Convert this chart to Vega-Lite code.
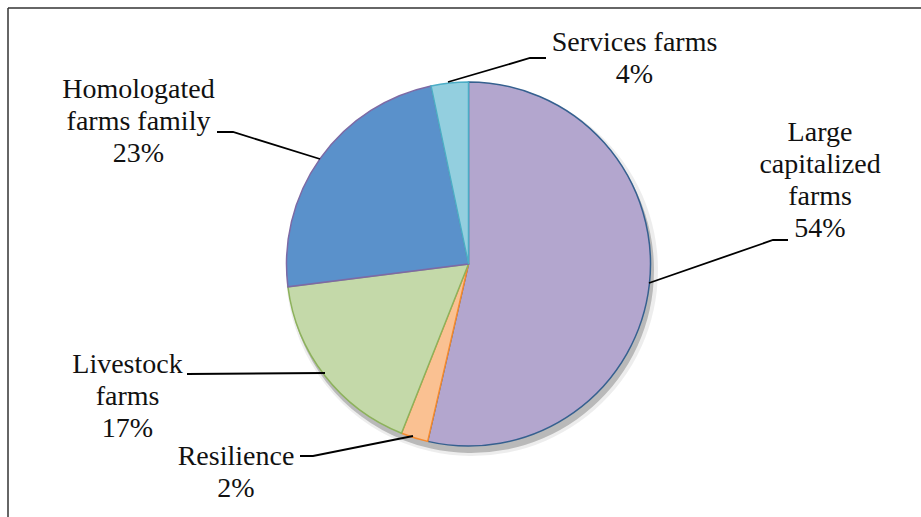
{
  "$schema": "https://vega.github.io/schema/vega-lite/v6.json",
  "width": 921,
  "height": 517,
  "padding": 0,
  "autosize": {"type": "none"},
  "background": "white",
  "config": {"view": {"stroke": null}},
  "datasets": {
    "slices": [
      {"cat": "Large capitalized farms", "value": 53.6, "idx": 1},
      {"cat": "Resilience", "value": 2.4, "idx": 2},
      {"cat": "Livestock farms", "value": 17.0, "idx": 3},
      {"cat": "Homologated farms family", "value": 23.7, "idx": 4},
      {"cat": "Services farms", "value": 3.3, "idx": 5}
    ],
    "labels": [
      {"text": "Services farms\n4%", "x": 634.5, "y": 51},
      {"text": "Large\ncapitalized\nfarms\n54%", "x": 820, "y": 141},
      {"text": "Homologated\nfarms family\n23%", "x": 138.5, "y": 98},
      {"text": "Livestock\nfarms\n17%", "x": 127.5, "y": 372.5},
      {"text": "Resilience\n2%", "x": 236, "y": 465}
    ],
    "leaders": [
      {"g": "s", "o": 1, "x": 448, "y": 82},
      {"g": "s", "o": 2, "x": 530, "y": 58},
      {"g": "s", "o": 3, "x": 546, "y": 58},
      {"g": "h", "o": 1, "x": 217, "y": 132},
      {"g": "h", "o": 2, "x": 233, "y": 132},
      {"g": "h", "o": 3, "x": 320, "y": 159},
      {"g": "l", "o": 1, "x": 649, "y": 283},
      {"g": "l", "o": 2, "x": 773, "y": 240},
      {"g": "l", "o": 3, "x": 788, "y": 240},
      {"g": "v", "o": 1, "x": 187, "y": 374},
      {"g": "v", "o": 2, "x": 325, "y": 373},
      {"g": "r", "o": 1, "x": 300, "y": 456},
      {"g": "r", "o": 2, "x": 313, "y": 456},
      {"g": "r", "o": 3, "x": 413, "y": 436}
    ],
    "frame": [
      {"x": 8, "y": 8, "x2": 8, "y2": 517},
      {"x": 8, "y": 8, "x2": 921, "y2": 8}
    ]
  },
  "layer": [
    {
      "data": {"name": "frame"},
      "mark": {"type": "rule", "color": "#333333", "strokeWidth": 1.5},
      "encoding": {
        "x": {"field": "x", "type": "quantitative", "scale": {"domain": [0, 921], "nice": false, "zero": false}, "axis": null},
        "y": {"field": "y", "type": "quantitative", "scale": {"domain": [0, 517], "nice": false, "zero": false, "reverse": true}, "axis": null},
        "x2": {"field": "x2"},
        "y2": {"field": "y2"}
      }
    },
    {
      "data": {"name": "slices"},
      "mark": {"type": "arc", "outerRadius": 186, "fill": "#000000", "opacity": 0.07, "stroke": null},
      "encoding": {
        "theta": {"field": "value", "type": "quantitative", "stack": true},
        "order": {"field": "idx", "type": "quantitative"},
        "x": {"datum": 472, "type": "quantitative"},
        "y": {"datum": 270, "type": "quantitative"}
      }
    },
    {
      "data": {"name": "slices"},
      "mark": {"type": "arc", "outerRadius": 183, "fill": "#000000", "opacity": 0.22, "stroke": null},
      "encoding": {
        "theta": {"field": "value", "type": "quantitative", "stack": true},
        "order": {"field": "idx", "type": "quantitative"},
        "x": {"datum": 471, "type": "quantitative"},
        "y": {"datum": 270, "type": "quantitative"}
      }
    },
    {
      "data": {"name": "slices"},
      "mark": {"type": "arc", "outerRadius": 182, "strokeWidth": 1.5},
      "encoding": {
        "theta": {"field": "value", "type": "quantitative", "stack": true},
        "order": {"field": "idx", "type": "quantitative"},
        "x": {"datum": 468.5, "type": "quantitative"},
        "y": {"datum": 264, "type": "quantitative"},
        "fill": {
          "field": "cat", "type": "nominal", "legend": null,
          "scale": {
            "domain": ["Large capitalized farms", "Resilience", "Livestock farms", "Homologated farms family", "Services farms"],
            "range": ["#B3A6CE", "#FAC192", "#C4D9A9", "#5A91CB", "#93CFDF"]
          }
        },
        "stroke": {
          "field": "cat", "type": "nominal", "legend": null,
          "scale": {
            "domain": ["Large capitalized farms", "Resilience", "Livestock farms", "Homologated farms family", "Services farms"],
            "range": ["#35608F", "#F58A2E", "#8DB25C", "#7D6AA5", "#4BADC6"]
          }
        }
      }
    },
    {
      "data": {"name": "leaders"},
      "mark": {"type": "line", "color": "#000000", "strokeWidth": 1.8},
      "encoding": {
        "x": {"field": "x", "type": "quantitative"},
        "y": {"field": "y", "type": "quantitative"},
        "detail": {"field": "g", "type": "nominal"},
        "order": {"field": "o", "type": "quantitative"}
      }
    },
    {
      "data": {"name": "labels"},
      "mark": {"type": "text", "font": "Liberation Serif", "fontSize": 28, "lineHeight": 32, "lineBreak": "\n", "align": "center", "baseline": "alphabetic", "color": "#111111"},
      "encoding": {
        "x": {"field": "x", "type": "quantitative"},
        "y": {"field": "y", "type": "quantitative"},
        "text": {"field": "text", "type": "nominal"}
      }
    }
  ]
}
